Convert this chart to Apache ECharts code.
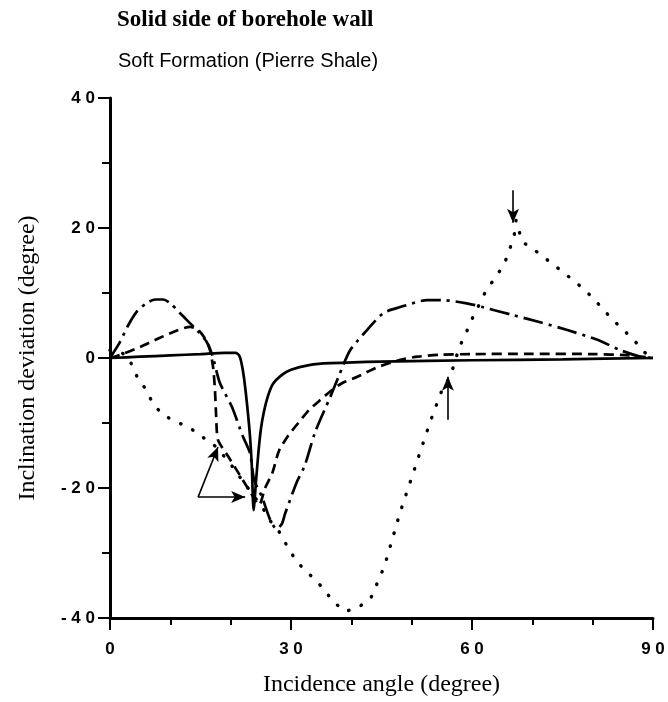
<!DOCTYPE html>
<html>
<head>
<meta charset="utf-8">
<script src="https://cdn.jsdelivr.net/npm/echarts@6/dist/echarts.min.js"></script>
<style>
  html, body { margin: 0; padding: 0; background: #fff; }
  #chart { width: 668px; height: 702px; }
</style>
</head>
<body>
<div id="chart"></div>
<script>
// Inclination deviation vs incidence angle, solid side of borehole wall
const titleText = 'Solid side of borehole wall';
const subtitleText = 'Soft Formation (Pierre Shale)';
const xName = 'Incidence angle (degree)';
const yName = 'Inclination deviation (degree)';

const xTicks = [0, 30, 60, 90];
const yTicks = [-40, -20, 0, 20, 40];

// [incidence angle, deviation] pairs for each curve
const solidPts = [
  [0, 0], [5, 0.2], [10, 0.4], [15, 0.6], [19, 0.8], [20.8, 0.8], [21.4, 0.4],
  [21.8, -0.8], [22.2, -3], [22.7, -7], [23.2, -12], [23.5, -16.5], [23.8, -23.4],
  [24.2, -19], [24.6, -14.5], [25, -11], [25.5, -8.3], [26.2, -5.8], [27, -4],
  [28.5, -2.6], [30, -1.8], [33, -1.1], [36.5, -0.8], [45, -0.55], [60, -0.35],
  [75, -0.2], [90, 0]
];
const dashedPts = [
  [0, 0], [2, 0.6], [5, 1.7], [8, 3], [11, 4.2], [13.3, 4.8], [14.5, 4.4],
  [15.6, 3.2], [16.5, 1.5], [17.1, -1.5], [17.4, -5], [17.6, -9], [17.9, -12.6],
  [19.5, -15], [21.5, -18], [23.5, -21], [24.7, -22.6], [25.7, -20], [26.9, -17.7],
  [28, -14.3], [29.5, -12], [31.2, -10], [33, -8], [34.8, -6.5], [36.7, -5],
  [38.6, -3.8], [41, -2.9], [44.1, -1.5], [48, -0.3], [51, 0.2], [54.7, 0.5],
  [60, 0.6], [70, 0.65], [80, 0.6], [86, 0.4], [90, 0]
];
const dashDotPts = [
  [0, 0], [1.5, 2.2], [3, 5], [4.5, 7.2], [6, 8.4], [7.5, 9], [8.8, 9],
  [10, 8.4], [11.5, 7], [13, 5.6], [14.5, 4.2], [16, 2.5], [17, 0.3],
  [18.2, -3.8], [20.2, -7.5], [22, -12], [23.2, -14.6], [23.9, -18.8],
  [25.2, -21.4], [26.6, -25], [27.6, -26.3], [28.5, -25.5], [29, -24],
  [31, -19], [32.3, -16.5], [34, -11.4], [36.5, -6], [38, -2.6], [39.8, 1.2],
  [42.6, 4.3], [45.3, 6.9], [48, 7.8], [52.6, 8.9], [55.2, 8.9], [59.7, 8.3],
  [61.9, 7.8], [66.8, 6.6], [71.3, 5.5], [75.8, 4.3], [80.8, 2.8], [84.6, 1.2],
  [87.9, 0.2], [90, 0]
];
const dottedPts = [
  [0, 1.2], [1.2, 1.2], [3, 0.2], [4.5, -2.9], [6, -4.9], [7.1, -7], [8.8, -8.8],
  [11, -9.8], [13.3, -10.8], [15.4, -12.2], [17.5, -13.6], [19.9, -16.2],
  [21.9, -18.8], [23.5, -20.8], [25.4, -23.2], [26.5, -25], [27.9, -26.5],
  [29.4, -29], [31, -31.4], [33.2, -33.4], [35.3, -35.4], [37, -37.5],
  [39, -39], [41.3, -38.3], [43.3, -36.8], [45.5, -32], [48, -24], [50.5, -17],
  [53, -10], [55, -5], [56.5, -2.6], [57.9, 1.7], [59, 3.8], [59.9, 5.8],
  [62.4, 10.5], [64, 12.5], [65.4, 14.6], [66.2, 16.6], [67, 18.9], [67.3, 21.2],
  [68.3, 17.9], [70.8, 16.3], [72.6, 15], [75.1, 13.2], [77.4, 11.5],
  [79.9, 9.4], [82.1, 7.1], [84.2, 5.1], [86.6, 3], [88.7, 0.8], [90, -0.2]
];

// Annotation arrows: [from, to] in data coordinates
const arrows = [
  [[14.6, -21.4], [17.9, -13.7]],
  [[14.6, -21.4], [22.4, -21.4]],
  [[66.8, 25.8], [66.8, 20.8]],
  [[56.0, -9.5], [56.0, -2.9]]
];

const ink = '#000';
const serif = '"Liberation Serif", "DejaVu Serif", serif';
const sans = '"Liberation Sans", Arial, sans-serif';

function spaced(v) {
  return String(v).split('').join(' ');
}

const chart = echarts.init(document.getElementById('chart'), null, { renderer: 'canvas' });

function lineSeries(name, pts, type, width, cap, smooth) {
  return {
    name: name,
    type: 'line',
    data: pts,
    showSymbol: false,
    smooth: smooth,
    lineStyle: { color: ink, width: width, type: type, cap: cap || 'butt' },
    z: 3,
    animation: false
  };
}

const series = [
  lineSeries('solid', solidPts, 'solid', 2.7, 'butt', 0.25),
  lineSeries('dashed', dashedPts, [10, 6], 2.7, 'butt', 0.25),
  lineSeries('dashdot', dashDotPts, [20, 6, 3, 6], 2.7, 'butt', 0.25),
  lineSeries('dotted', dottedPts, [0.5, 13], 3.4, 'round', false)
];

series.push({
  type: 'line',
  data: [],
  markLine: {
    silent: true,
    animation: false,
    symbol: ['none', 'arrow'],
    symbolSize: [9, 14],
    label: { show: false },
    lineStyle: { color: ink, width: 1.6, type: 'solid' },
    data: arrows.map(a => [{ coord: a[0] }, { coord: a[1] }])
  }
});

const tickStyle = { color: ink, width: 2 };

chart.setOption({
  animation: false,
  backgroundColor: '#fff',
  title: [
    {
      text: titleText,
      left: 117, top: 9, padding: 0,
      textStyle: { fontFamily: serif, fontWeight: 'bold', fontSize: 23, color: ink }
    },
    {
      text: subtitleText,
      left: 118, top: 51, padding: 0,
      textStyle: { fontFamily: sans, fontWeight: 'normal', fontSize: 20, color: ink }
    }
  ],
  grid: { left: 110, right: 15, top: 98, bottom: 82 },
  xAxis: {
    type: 'value',
    min: 0, max: 90, interval: 30,
    name: xName,
    nameLocation: 'middle',
    nameGap: 55,
    nameTextStyle: { fontFamily: serif, fontSize: 24, color: ink },
    axisLine: { onZero: false, lineStyle: { color: ink, width: 3 } },
    axisTick: { show: true, length: 12, inside: false, lineStyle: tickStyle },
    minorTick: { show: true, splitNumber: 3, length: 7, lineStyle: tickStyle },
    splitLine: { show: false },
    minorSplitLine: { show: false },
    axisLabel: {
      margin: 23,
      fontFamily: sans, fontWeight: 'bold', fontSize: 17, color: ink,
      formatter: v => xTicks.includes(v) ? spaced(v) : ''
    }
  },
  yAxis: {
    type: 'value',
    min: -40, max: 40, interval: 20,
    name: yName,
    nameLocation: 'middle',
    nameGap: 70,
    nameRotate: 90,
    nameTextStyle: { fontFamily: serif, fontSize: 24, color: ink },
    axisLine: { onZero: false, lineStyle: { color: ink, width: 3 } },
    axisTick: { show: true, length: 12, inside: false, lineStyle: tickStyle },
    minorTick: { show: true, splitNumber: 2, length: 8, lineStyle: tickStyle },
    splitLine: { show: false },
    minorSplitLine: { show: false },
    axisLabel: {
      margin: 15,
      fontFamily: sans, fontWeight: 'bold', fontSize: 17, color: ink,
      formatter: v => yTicks.includes(v) ? spaced(v) : ''
    }
  },
  series: series
});
</script>
</body>
</html>
